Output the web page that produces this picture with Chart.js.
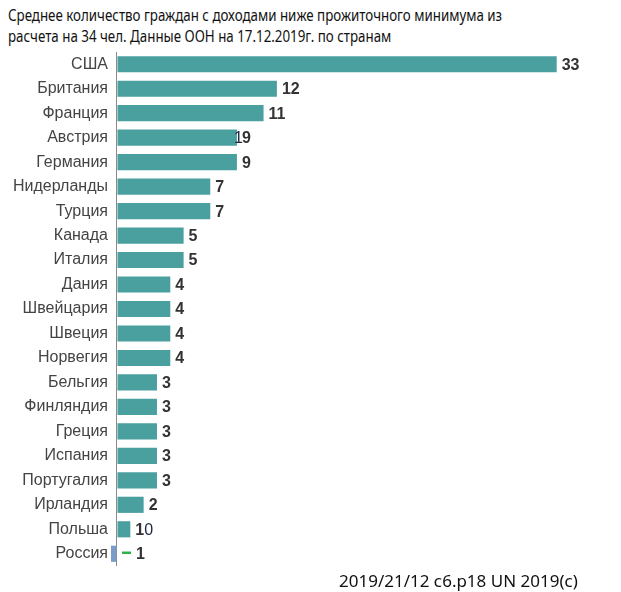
<!DOCTYPE html>
<html><head><meta charset="utf-8">
<script src="https://cdn.jsdelivr.net/npm/chart.js@4"></script>
<style>
html,body{margin:0;padding:0;background:#fff;width:621px;height:592px;overflow:hidden;position:relative}
#t{position:absolute;left:8px;top:5px;font-family:"Noto Sans",sans-serif;font-size:15.5px;line-height:21px;color:#111;white-space:nowrap;transform:scaleX(0.86);transform-origin:0 0}
#f{position:absolute;left:339px;top:569px;font-family:"Noto Sans",sans-serif;font-size:17px;color:#111;white-space:nowrap}
#c{position:absolute;left:0;top:0}
</style></head><body>
<div id="t">Среднее количество граждан с доходами ниже прожиточного минимума из<br>расчета на 34 чел. Данные ООН на 17.12.2019г. по странам</div>
<canvas id="c" width="621" height="592"></canvas>
<div id="f">2019/21/12 с6.р18 UN 2019(с)</div>
<script>
const categories = ["США","Британия","Франция","Австрия","Германия","Нидерланды","Турция","Канада","Италия","Дания","Швейцария","Швеция","Норвегия","Бельгия","Финляндия","Греция","Испания","Португалия","Ирландия","Польша","Россия"];
const values = [33,12,11,9,9,7,7,5,5,4,4,4,4,3,3,3,3,3,2,1,-0.45];
const valueLabels = ["33","12","11","9","9","7","7","5","5","4","4","4","4","3","3","3","3","3","2","10","1"];
const barColors = values.map(v => v < 0 ? "#7b9bc9" : "#4a9f9f");

const labelPlugin = {
  id: "vlabels",
  afterDatasetsDraw(chart) {
    const ctx = chart.ctx;
    const meta = chart.getDatasetMeta(0);
    const xs = chart.scales.x;
    const zero = xs.getPixelForValue(0);
    const bold = "bold 16px 'Liberation Sans', Arial, sans-serif";
    const reg = "16px 'Liberation Sans', Arial, sans-serif";
    ctx.save();
    ctx.textBaseline = "middle";
    ctx.textAlign = "left";
    meta.data.forEach((bar, i) => {
      const y = bar.y + 1;
      let x = Math.max(bar.x, zero) + 5;
      const txt = valueLabels[i];
      if (categories[i] === "Россия") {
        ctx.strokeStyle = "#2db34a"; ctx.lineWidth = 2.5;
        ctx.beginPath(); ctx.moveTo(zero + 5, y - 2); ctx.lineTo(zero + 14, y - 2); ctx.stroke();
        ctx.font = bold;
        ctx.fillStyle = "#333";
        ctx.fillText(txt, zero + 19, y);
        return;
      }
      if (categories[i] === "Польша") {
        ctx.font = bold;
        ctx.fillStyle = "#333";
        ctx.fillText("1", x, y);
        const w = ctx.measureText("1").width;
        ctx.font = reg;
        ctx.fillStyle = "#1c2440";
        ctx.fillText("0", x + w, y);
        return;
      }
      if (categories[i] === "Австрия") {
        ctx.font = reg;
        ctx.fillStyle = "#1c2440";
        ctx.fillText("1", bar.x - 3, y);
      }
      ctx.font = bold;
      ctx.fillStyle = "#333";
      ctx.fillText(txt, x, y);
    });
    ctx.restore();
  }
};

new Chart(document.getElementById("c"), {
  type: "bar",
  data: {
    labels: categories,
    datasets: [{ data: values, backgroundColor: barColors, borderWidth: 0, barPercentage: 0.66, categoryPercentage: 1 }]
  },
  options: {
    indexAxis: "y",
    responsive: false,
    animation: false,
    layout: { padding: { top: 52, bottom: 26, left: 0, right: 11 } },
    plugins: { legend: { display: false }, tooltip: { enabled: false }, title: { display: false } },
    scales: {
      x: {
        min: -0.6, max: 37,
        afterBuildTicks(s) { s.ticks = [{ value: 0 }]; },
        ticks: { display: false },
        grid: { color: "#8a8a8a", lineWidth: 1, drawTicks: false },
        border: { display: false }
      },
      y: {
        afterFit(s) { s.width = 109; },
        grid: { display: false, drawTicks: false },
        border: { display: false },
        ticks: { padding: 1, color: "#444", font: { family: "'Liberation Sans', Arial, sans-serif", size: 16 } }
      }
    }
  },
  plugins: [labelPlugin]
});
</script>
</body></html>
